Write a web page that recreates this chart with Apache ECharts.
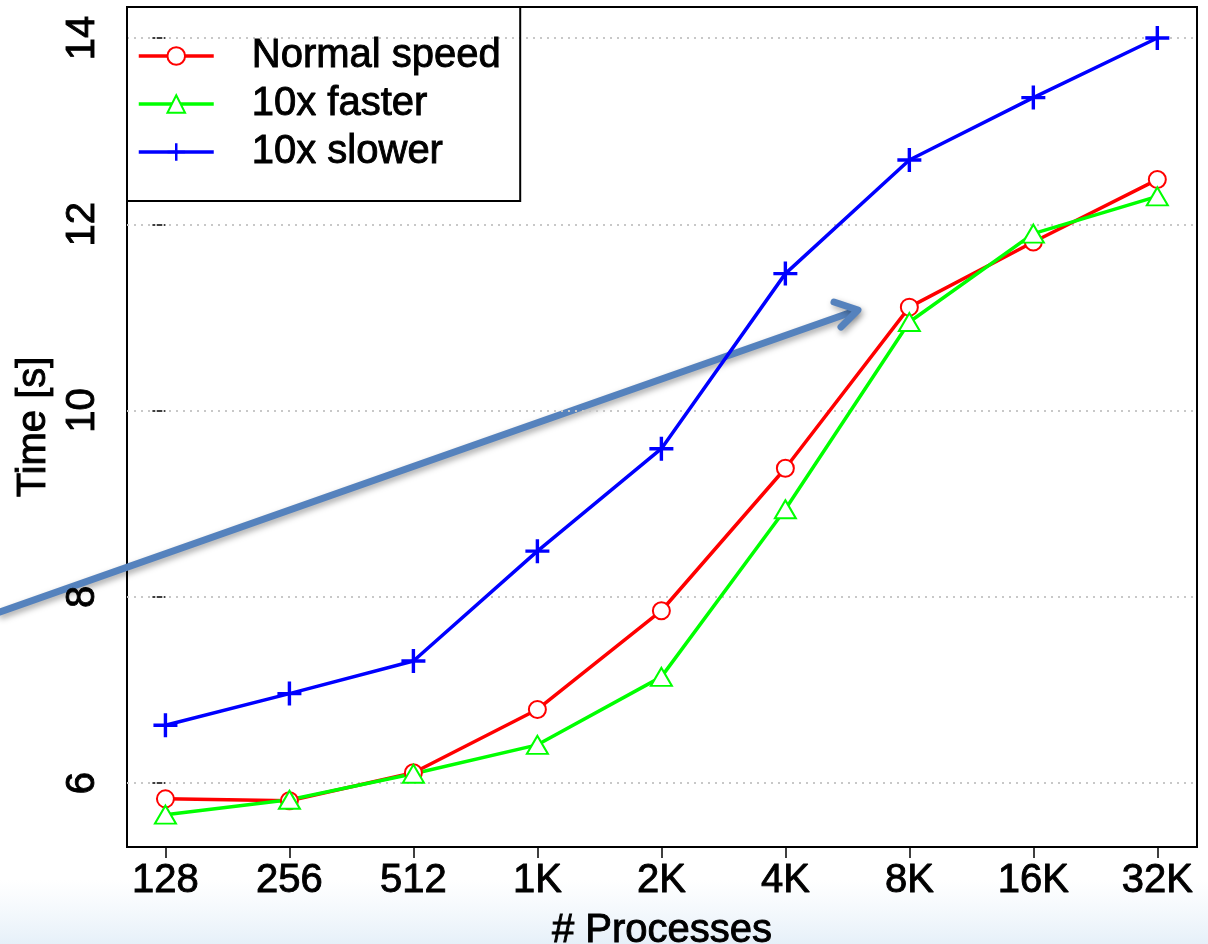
<!DOCTYPE html>
<html>
<head>
<meta charset="utf-8">
<script src="https://cdn.jsdelivr.net/npm/echarts@6/dist/echarts.min.js"></script>
<style>
html,body{margin:0;padding:0;background:#fff;}
#chart{width:1208px;height:944px;}
</style>
</head>
<body>
<div id="chart"></div>
<script>
// ---- data ----
const xLabels = ['128', '256', '512', '1K', '2K', '4K', '8K', '16K', '32K'];
const yTicks = [6, 8, 10, 12, 14];
const normalSpeed = [5.83, 5.81, 6.11, 6.79, 7.85, 9.38, 11.11, 11.81, 12.48];
const faster10x   = [5.66, 5.82, 6.10, 6.41, 7.14, 8.94, 10.95, 11.90, 12.30];
const slower10x   = [6.62, 6.96, 7.31, 8.49, 9.59, 11.47, 12.69, 13.36, 14.00];
const seriesNames = ['Normal speed', '10x faster', '10x slower'];

const xIdx = xLabels.map((_, i) => i);
const pairs = arr => arr.map((v, i) => [i, v]);
const FONT = 'Liberation Sans, Arial, sans-serif';
const plusPath = 'path://M10.3,0H13.7V10.3H24V13.7H13.7V24H10.3V13.7H0V10.3H10.3Z';
const txt = {fontFamily: FONT, fontSize: 40, color: '#000', textBorderColor: '#000', textBorderWidth: 0.9};

const chart = echarts.init(document.getElementById('chart'), null, {renderer: 'canvas'});

const option = {
  backgroundColor: '#ffffff',
  animation: false,
  grid: {left: 127, top: 7, right: 11, bottom: 97, show: true, borderColor: '#000', borderWidth: 2,
         backgroundColor: 'transparent', containLabel: false, outerBoundsMode: 'none'},
  xAxis: {
    type: 'value', min: -0.31, max: 8.32,
    name: '# Processes', nameLocation: 'middle', nameGap: 64,
    nameTextStyle: txt,
    axisLine: {show: false},
    axisTick: {show: true, customValues: xIdx, length: 11, lineStyle: {color: '#000', width: 1.5}},
    axisLabel: Object.assign({customValues: xIdx, formatter: v => xLabels[Math.round(v)], margin: 14}, txt),
    splitLine: {show: false}
  },
  yAxis: {
    type: 'value', min: 5.313, max: 14.333,
    name: 'Time [s]', nameLocation: 'middle', nameGap: 72, nameRotate: 90,
    nameTextStyle: txt,
    axisLine: {show: false},
    axisTick: {show: true, customValues: yTicks, length: 13, lineStyle: {color: '#000', width: 1.5}},
    axisLabel: Object.assign({customValues: yTicks, rotate: 90, margin: 24}, txt),
    splitLine: {show: false}
  },
  legend: {
    left: 127, top: 7, orient: 'vertical',
    data: seriesNames,
    itemWidth: 75, itemHeight: 22, itemGap: 0,
    padding: [25, 19, 25, 10],
    borderColor: '#000', borderWidth: 2,
    lineStyle: {width: 3.5},
    itemStyle: {borderWidth: 3},
    textStyle: Object.assign({lineHeight: 48, padding: [0, 0, 0, 33]}, txt)
  },
  series: [
    {
      name: '_grid', type: 'line', data: [], z: 1, silent: true,
      markLine: {
        silent: true, symbol: 'none', z: 1, animation: false,
        label: {show: false},
        lineStyle: {color: '#c8c8c8', type: [2, 5], width: 2},
        emphasis: {disabled: true},
        data: yTicks.map(v => ({yAxis: v}))
      }
    },
    {
      name: seriesNames[0], type: 'line', data: pairs(normalSpeed), z: 3,
      color: '#ff0000',
      lineStyle: {color: '#ff0000', width: 3.5},
      symbol: 'emptyCircle', symbolSize: 17,
      itemStyle: {color: '#ff0000', borderColor: '#ff0000', borderWidth: 3},
      showAllSymbol: true
    },
    {
      name: seriesNames[1], type: 'line', data: pairs(faster10x), z: 3,
      color: '#00ff00',
      lineStyle: {color: '#00ff00', width: 3.5},
      symbol: 'emptyTriangle', symbolSize: [21, 18],
      itemStyle: {color: '#00ff00', borderColor: '#00ff00', borderWidth: 3},
      showAllSymbol: true
    },
    {
      name: seriesNames[2], type: 'line', data: pairs(slower10x), z: 3,
      color: '#0000ff',
      lineStyle: {color: '#0000ff', width: 3.5},
      symbol: plusPath, symbolSize: 24,
      itemStyle: {color: '#0000ff', borderWidth: 0},
      showAllSymbol: true
    }
  ],
  graphic: [
    {
      type: 'rect', z: -10, silent: true,
      shape: {x: 0, y: 880, width: 1208, height: 64},
      style: {fill: new echarts.graphic.LinearGradient(0, 0, 0, 1, [{offset: 0, color: 'rgba(235,243,250,0)'}, {offset: 1, color: '#e6f0f9'}])}
    },
    {
      type: 'group', z: 100, silent: true,
      children: [
        {type: 'polyline', shape: {points: [[0, 612], [852, 312]]},
         style: {stroke: '#5582bd', lineWidth: 7, lineCap: 'round', shadowBlur: 6, shadowColor: 'rgba(0,0,0,0.35)', shadowOffsetX: 2, shadowOffsetY: 3}},
        {type: 'polyline', shape: {points: [[834, 302], [858, 310], [841, 327]]},
         style: {stroke: '#5582bd', fill: null, lineWidth: 7, lineCap: 'round', lineJoin: 'round', shadowBlur: 6, shadowColor: 'rgba(0,0,0,0.35)', shadowOffsetX: 2, shadowOffsetY: 3}}
      ]
    }
  ]
};
chart.setOption(option);
</script>
</body>
</html>
